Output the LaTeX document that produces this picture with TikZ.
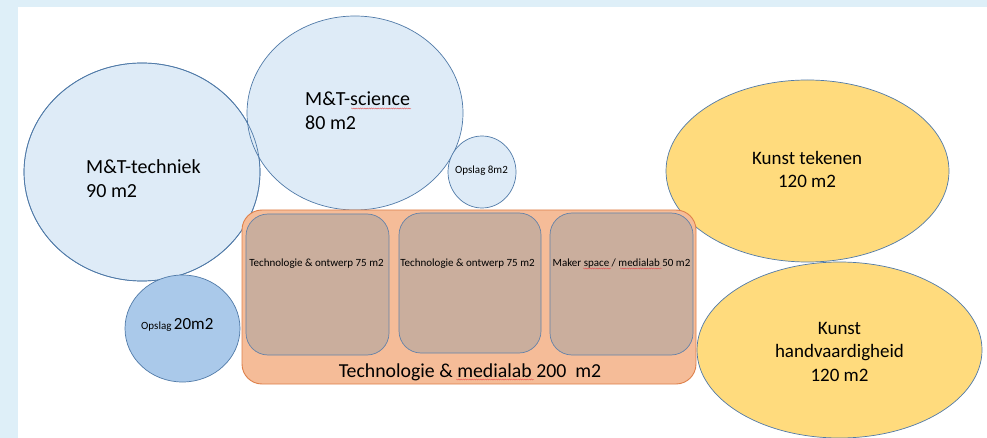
\documentclass[tikz,border=0pt]{standalone}
\usepackage{fontspec}
\setmainfont{Carlito}
\usetikzlibrary{shapes.geometric,decorations.pathmorphing}
\definecolor{bgblue}{RGB}{222,239,248}
\definecolor{ellfill}{RGB}{222,235,247}
\definecolor{ellline}{RGB}{80,122,168}
\definecolor{opsfill}{RGB}{170,201,234}
\definecolor{yelfill}{RGB}{255,219,125}
\definecolor{orfill}{RGB}{245,188,152}
\definecolor{orline}{RGB}{222,128,74}
\definecolor{brfill}{RGB}{202,174,157}
\definecolor{brline}{RGB}{100,130,168}
\definecolor{squigred}{RGB}{230,70,70}
\tikzset{
  ell/.style={ellipse, inner sep=0pt, draw=ellline, line width=0.7pt},
  bluell/.style={ell, fill=ellfill},
  yelell/.style={ell, fill=yelfill},
  outerbox/.style={rectangle, rounded corners=20pt, fill=orfill, draw=orline, line width=0.9pt, inner sep=0pt},
  innerbox/.style={rectangle, rounded corners=22pt, fill=brfill, draw=brline, line width=0.7pt, inner sep=0pt},
  bigtxt/.style={inner sep=0pt, font=\fontsize{20}{24}\selectfont},
  midtxt/.style={inner sep=0pt, font=\fontsize{19}{23.5}\selectfont},
  labtxt/.style={inner sep=0pt, font=\fontsize{19.8}{24}\selectfont},
  smalltxt/.style={inner sep=0pt, font=\fontsize{11}{13}\selectfont},
  squig/.style={draw=squigred, line width=0.3pt, decorate, decoration={snake, segment length=2.2pt, amplitude=0.55pt}}
}
\begin{document}
\begin{tikzpicture}[x=1pt,y=-1pt]
\useasboundingbox (0,0) rectangle (987,438);
\fill[bgblue] (0,0) rectangle (987,438);
\fill[white] (18,7) rectangle (987,438);
% blue ellipses
\node[bluell, minimum width=236pt, minimum height=218pt] (tech) at (142,172) {};
\node[bluell, minimum width=216pt, minimum height=194pt] (sci) at (355,113) {};
\draw[ellline, line width=0.7pt] (tech.center) ellipse [x radius=118pt, y radius=109pt];
\node[bluell, minimum width=68pt, minimum height=72pt] (ops8) at (482,172) {};
\node[ell, fill=opsfill, minimum width=115pt, minimum height=107pt] (ops20) at (182.5,328.5) {};
% yellow ellipses
\node[yelell, minimum width=283pt, minimum height=182pt] (kt) at (807.5,171) {};
\node[yelell, minimum width=285pt, minimum height=176pt] (kh) at (839.5,350) {};
% technology lab
\node[outerbox, minimum width=454pt, minimum height=174pt] (lab) at (469,297) {};
\node[innerbox, minimum width=143pt, minimum height=141pt] (to1) at (317.5,284.5) {};
\node[innerbox, minimum width=142pt, minimum height=140pt] (to2) at (470,283) {};
\node[innerbox, minimum width=143pt, minimum height=142pt] (ms) at (621.5,284) {};
% texts (base anchor = baseline of last line)
\node[bigtxt, anchor=base west, align=left] (techT) at (86,198) {M\&T-techniek\\90 m2};
\node[bigtxt, anchor=base west, align=left] (sciT) at (305,130) {M\&T-science\\80 m2};
\node[smalltxt, anchor=base] (ops8T) at (481.5,174) {Opslag 8m2};
\node[inner sep=0pt, anchor=base west] (ops20T) at (141,329) {\fontsize{11}{13}\selectfont Opslag \fontsize{17}{20}\selectfont 20m2};
\node[midtxt, anchor=base, align=center] (ktT) at (807,188) {Kunst tekenen\\120 m2};
\node[midtxt, anchor=base, align=center] (khT) at (839.5,381) {Kunst\\handvaardigheid\\120 m2};
\node[smalltxt, anchor=base] (to1T) at (316.5,266) {Technologie \& ontwerp 75 m2};
\node[smalltxt, anchor=base] (to2T) at (467.5,266) {Technologie \& ontwerp 75 m2};
\node[smalltxt, anchor=base] (msT) at (621.5,266) {Maker space / medialab 50 m2};
\node[labtxt, anchor=base] (labT) at (470,377) {Technologie \& medialab 200~~m2};
% spell-check underlines
\draw[squig] (351,108.5) -- (411,108.5);
\draw[squig] (456,379.5) -- (534,379.5);
\draw[squig] (583,268.5) -- (611,268.5);
\draw[squig] (620,268.5) -- (662,268.5);
\end{tikzpicture}
\end{document}
